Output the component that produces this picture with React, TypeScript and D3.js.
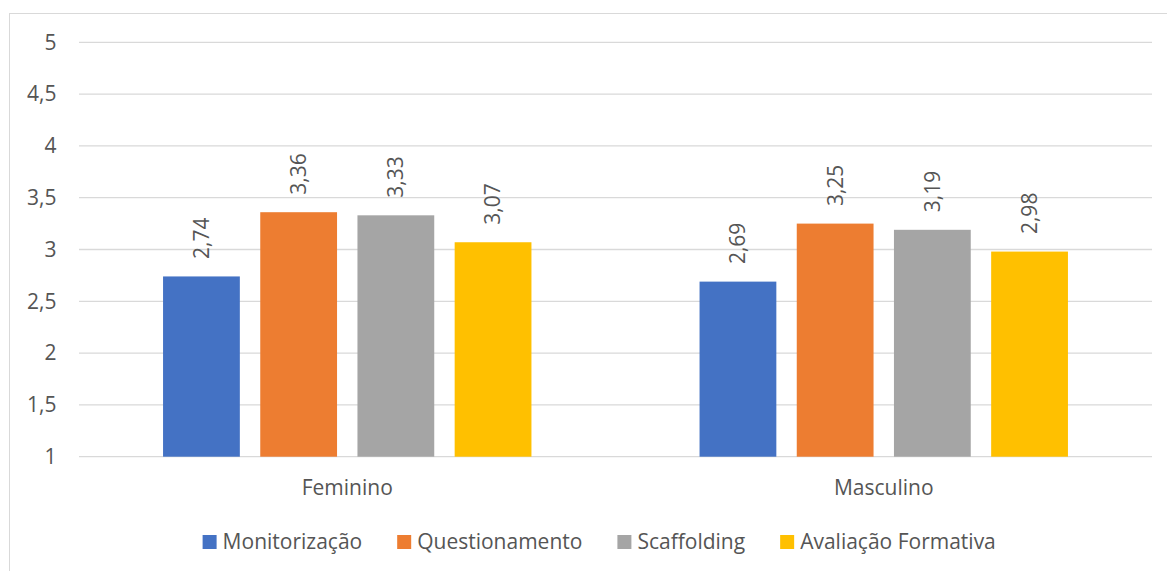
import React, { useEffect, useRef } from "react";
import * as d3 from "d3";

// Chart data
const categories = ["Feminino", "Masculino"];
const seriesNames = ["Monitorização", "Questionamento", "Scaffolding", "Avaliação Formativa"];
const seriesColors = ["#4472C4", "#ED7D31", "#A5A5A5", "#FFC000"];
const monitorizacao = [2.74, 2.69];
const questionamento = [3.36, 3.25];
const scaffolding = [3.33, 3.19];
const avaliacaoFormativa = [3.07, 2.98];
const yTicks = [1, 1.5, 2, 2.5, 3, 3.5, 4, 4.5, 5];

const seriesValues = [monitorizacao, questionamento, scaffolding, avaliacaoFormativa];

const W = 1167;
const H = 571;
const FONT = "'Open Sans', 'Noto Sans', sans-serif";
const FS = 21;
const TEXT = "#555555";
const GRID = "#d9d9d9";

const ptLocale = d3.formatLocale({ decimal: ",", thousands: ".", grouping: [3], currency: ["€", ""] });
const fmtTick = ptLocale.format("~g");
const fmtValue = ptLocale.format(".2f");

export default function App() {
  const ref = useRef<SVGSVGElement | null>(null);

  useEffect(() => {
    const svg = d3.select(ref.current);
    svg.selectAll("*").remove();

    const plot = { left: 79, right: 1152, top: 42.3, bottom: 456.7 };

    const y = d3.scaleLinear().domain([1, 5]).range([plot.bottom, plot.top]);
    const x0 = d3.scaleBand<string>().domain(categories).range([plot.left, plot.right]).padding(0);
    const groupW = 368.4;
    const x1 = d3
      .scaleBand<string>()
      .domain(seriesNames)
      .range([(x0.bandwidth() - groupW) / 2, (x0.bandwidth() + groupW) / 2])
      .paddingInner(0.21)
      .paddingOuter(0);

    // chart frame
    svg
      .append("rect")
      .attr("x", 9.5)
      .attr("y", 13.5)
      .attr("width", 1180)
      .attr("height", 600)
      .attr("fill", "#fff")
      .attr("stroke", GRID)
      .attr("stroke-width", 1);

    // gridlines
    svg
      .append("g")
      .selectAll("line")
      .data(yTicks)
      .join("line")
      .attr("x1", plot.left)
      .attr("x2", plot.right)
      .attr("y1", (d) => y(d))
      .attr("y2", (d) => y(d))
      .attr("stroke", GRID)
      .attr("stroke-width", 1.3);

    // y tick labels
    svg
      .append("g")
      .selectAll("text")
      .data(yTicks)
      .join("text")
      .attr("x", 56.5)
      .attr("y", (d) => y(d))
      .attr("dy", "0.35em")
      .attr("text-anchor", "end")
      .attr("font-family", FONT)
      .attr("font-size", FS)
      .attr("fill", TEXT)
      .text((d) => fmtTick(d));

    // bars and value labels
    const groups = svg
      .append("g")
      .selectAll("g")
      .data(categories)
      .join("g")
      .attr("transform", (d) => `translate(${x0(d)},0)`);

    groups.each(function (cat, ci) {
      const g = d3.select(this);
      const rows = seriesNames.map((name, si) => ({ name, value: seriesValues[si][ci], color: seriesColors[si] }));
      g.selectAll("rect")
        .data(rows)
        .join("rect")
        .attr("x", (d) => x1(d.name)!)
        .attr("y", (d) => y(d.value))
        .attr("width", x1.bandwidth())
        .attr("height", (d) => y(1) - y(d.value))
        .attr("fill", (d) => d.color);

      g.selectAll("text")
        .data(rows)
        .join("text")
        .attr(
          "transform",
          (d) => `translate(${x1(d.name)! + x1.bandwidth() / 2},${y(d.value) - 17.5}) rotate(-90)`
        )
        .attr("dy", "0.35em")
        .attr("text-anchor", "start")
        .attr("font-family", FONT)
        .attr("font-size", FS)
        .attr("fill", TEXT)
        .text((d) => fmtValue(d.value));
    });

    // category labels
    svg
      .append("g")
      .selectAll("text")
      .data(categories)
      .join("text")
      .attr("x", (d) => x0(d)! + x0.bandwidth() / 2)
      .attr("y", 495)
      .attr("text-anchor", "middle")
      .attr("font-family", FONT)
      .attr("font-size", FS)
      .attr("fill", TEXT)
      .text((d) => d);

    // legend, laid out from measured text widths and centred in the frame
    const legend = svg.append("g");
    const sq = 14;
    const gapText = 6;
    const gapItem = 35;
    const items = seriesNames.map((name, i) => {
      const g = legend.append("g");
      g.append("rect").attr("x", 0).attr("y", -sq).attr("width", sq).attr("height", sq).attr("fill", seriesColors[i]);
      const t = g
        .append("text")
        .attr("x", sq + gapText)
        .attr("y", 0)
        .attr("font-family", FONT)
        .attr("font-size", FS)
        .attr("fill", TEXT)
        .text(name);
      const w = (t.node() as SVGTextElement).getComputedTextLength();
      return { g, width: sq + gapText + w };
    });
    const total = d3.sum(items, (d) => d.width) + gapItem * (items.length - 1);
    let cx = 599.2 - total / 2;
    items.forEach((it) => {
      it.g.attr("transform", `translate(${cx},549)`);
      cx += it.width + gapItem;
    });
  }, []);

  return (
    <svg
      ref={ref}
      width={W}
      height={H}
      viewBox={`0 0 ${W} ${H}`}
      style={{ position: "absolute", left: 0, top: 0, display: "block", background: "#fff" }}
    />
  );
}
